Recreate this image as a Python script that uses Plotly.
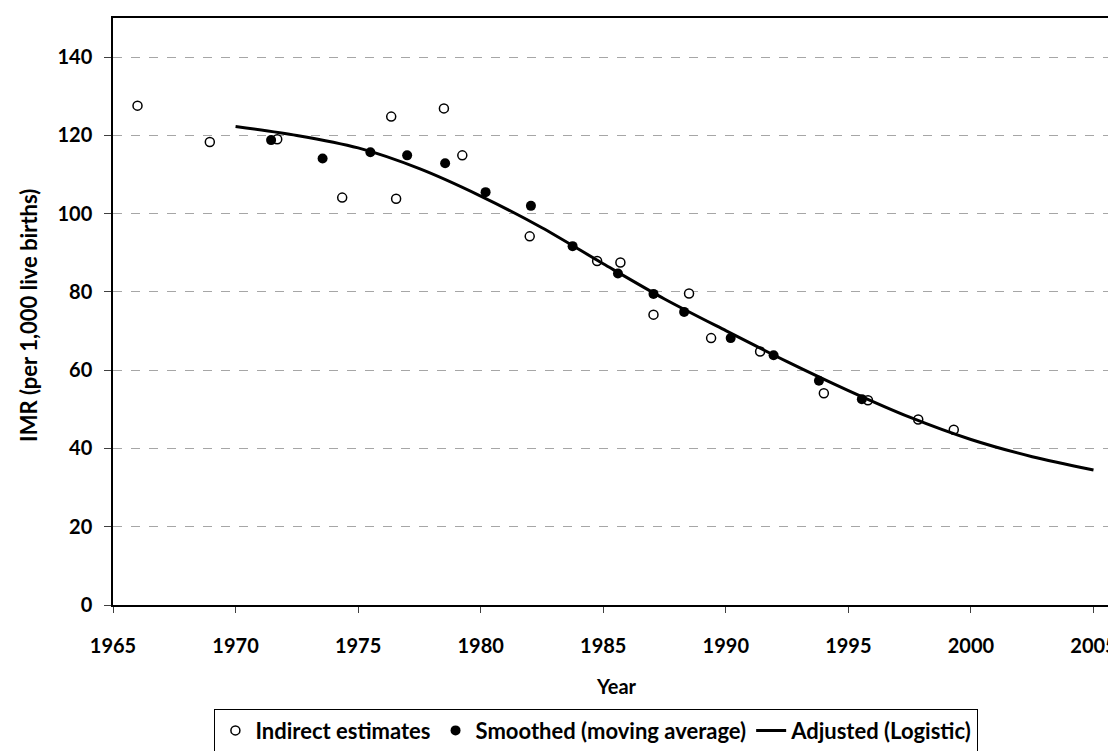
import plotly.graph_objects as go

# Indirect estimates (open circles)
indirect_year = [1966.0, 1968.95, 1971.7, 1974.35, 1976.35, 1976.55, 1978.5, 1979.25,
                 1982.0, 1984.75, 1985.7, 1987.05, 1988.5, 1989.4, 1991.4, 1994.0,
                 1995.8, 1997.85, 1999.3]
indirect_imr = [127.6, 118.3, 119.0, 104.1, 124.8, 103.8, 126.9, 114.9,
                94.2, 87.9, 87.5, 74.2, 79.6, 68.2, 64.8, 54.1,
                52.3, 47.4, 44.8]

# Smoothed (moving average) (filled circles)
smoothed_year = [1971.45, 1973.55, 1975.5, 1977.0, 1978.55, 1980.2, 1982.05, 1983.75,
                 1985.6, 1987.05, 1988.3, 1990.2, 1991.95, 1993.8, 1995.55]
smoothed_imr = [118.8, 114.1, 115.7, 114.9, 112.9, 105.5, 102.0, 91.7,
                84.7, 79.5, 74.9, 68.2, 63.8, 57.3, 52.6]

# Adjusted (Logistic) curve
adjusted_year = [1970, 1972.5, 1975, 1977.5, 1980, 1982.5, 1985, 1987.5,
                 1990, 1992.5, 1995, 1997.5, 2000, 2002.5, 2005]
adjusted_imr = [122.3, 120.0, 116.8, 111.5, 104.5, 96.4, 87.2, 78.2,
                70.1, 62.2, 54.8, 48.0, 42.3, 37.9, 34.5]

x_ticks = [1965, 1970, 1975, 1980, 1985, 1990, 1995, 2000, 2005]
y_ticks = [0, 20, 40, 60, 80, 100, 120, 140]

FONT = "Lato, 'Open Sans', Arial, sans-serif"

fig = go.Figure()
fig.add_trace(go.Scatter(
    x=indirect_year, y=indirect_imr, mode="markers", name="Indirect estimates",
    marker=dict(symbol="circle", size=9, color="white",
                line=dict(color="black", width=1.5)),
))
fig.add_trace(go.Scatter(
    x=smoothed_year, y=smoothed_imr, mode="markers", name="Smoothed (moving average)",
    marker=dict(symbol="circle", size=10, color="black",
                line=dict(color="black", width=0)),
))
fig.add_trace(go.Scatter(
    x=adjusted_year, y=adjusted_imr, mode="lines", name="Adjusted (Logistic)",
    line=dict(color="black", width=3, shape="spline", smoothing=0.8),
))

fig.update_layout(
    width=1116, height=751,
    margin=dict(l=105, r=6, t=10, b=143.5),
    paper_bgcolor="white", plot_bgcolor="white",
    font=dict(family=FONT, size=20, color="black"),
    showlegend=True,
    legend=dict(
        orientation="h", x=0.481, xanchor="center", y=-0.1765, yanchor="top",
        bordercolor="black", borderwidth=1, bgcolor="white",
        font=dict(family=FONT, size=22, color="black", weight="bold"),
        itemwidth=30, traceorder="normal",
    ),
    xaxis=dict(
        range=[1965, 2006], tickvals=x_ticks, ticktext=[str(v) for v in x_ticks],
        showgrid=False, zeroline=False, automargin=False,
        showline=True, linecolor="black", linewidth=1.5, mirror=True,
        ticks="outside", ticklen=6, tickcolor="#404040", tickwidth=1,
        ticklabelstandoff=16,
        tickfont=dict(family=FONT, size=20, color="black", weight="bold"),
    ),
    yaxis=dict(
        range=[0, 150], tickvals=y_ticks, ticktext=[str(v) for v in y_ticks],
        showgrid=True, gridcolor="#a6a6a6", gridwidth=1, griddash="dash",
        zeroline=False, automargin=False,
        showline=True, linecolor="black", linewidth=1.5,
        ticks="outside", ticklen=7, tickcolor="#404040", tickwidth=1,
        ticklabelstandoff=8,
        tickfont=dict(family=FONT, size=20, color="black", weight="bold"),
    ),
)

# Axis titles
fig.add_annotation(text="<b>Year</b>", xref="paper", yref="paper",
                   x=0.501, y=-0.138, xanchor="center", yanchor="middle",
                   showarrow=False, font=dict(family=FONT, size=20, color="black"))
fig.add_annotation(text="<b>IMR (per 1,000 live births)</b>", xref="paper", yref="paper",
                   x=-0.084, y=0.4935, xanchor="center", yanchor="middle", textangle=-90,
                   showarrow=False, font=dict(family=FONT, size=22, color="black"))

# Right border of the plot area in grey
fig.add_shape(type="line", xref="paper", yref="paper", x0=1, x1=1, y0=0, y1=1,
              line=dict(color="#808080", width=1.5))

fig.write_html("out.html")
